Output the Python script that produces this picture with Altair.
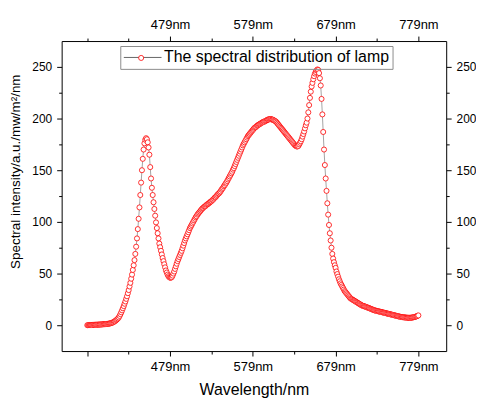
import altair as alt
import pandas as pd

# Spectral intensity, one value per nm starting at 379 nm
intensity = [
    0, 0.1, 0.1, 0.2, 0.2, 0.2, 0.3, 0.3, 0.4, 0.4,
    0.5, 0.5, 0.5, 0.6, 0.6, 0.7, 0.7, 0.8, 0.8, 0.9,
    1.0, 1.0, 1.1, 1.2, 1.3, 1.4, 1.5, 1.7, 1.9, 2.1,
    2.4, 2.8, 3.2, 3.7, 4.3, 5.0, 5.7, 6.5, 7.5, 9.0,
    10.7, 12.5, 14.4, 16.4, 18.5, 20.8, 23, 25.5, 28, 31,
    34, 37.5, 41, 45, 49, 53.5, 58, 63, 69, 76,
    84, 93, 103, 114, 126, 138, 150, 161, 170, 176,
    179.5, 181, 180, 177, 172, 165, 153, 142, 133, 126,
    119, 112.5, 106, 99.5, 94, 89, 84, 79, 75.5, 72,
    68.5, 65, 62, 59, 56, 53, 51, 49, 47.5, 46.5,
    46, 46, 46.5, 48, 50, 52, 54.5, 57, 59.5, 62,
    64, 66, 68, 70, 72, 74.5, 77, 79.5, 82, 84,
    86, 88, 90, 92, 94, 95.5, 97, 98.5, 100, 101.5,
    103, 104.5, 105.5, 107, 108, 109, 110, 111, 112, 113,
    113.5, 114.5, 115, 115.5, 116.5, 117, 117.5, 118, 119, 119.5,
    120, 121, 121.5, 122.5, 123.5, 124, 125, 126, 127, 127.5,
    128.5, 129.5, 131, 132, 133, 134.5, 135.5, 137, 138, 139.5,
    141, 142.5, 144, 145.5, 147, 148.5, 150.5, 152, 154, 156,
    158, 160, 162, 164, 166, 168, 170, 172, 174, 175.5,
    177, 178.5, 180, 181.5, 183, 184, 185, 186, 187, 188,
    189, 190, 191, 191.5, 192, 193, 193.5, 194, 194.5, 195,
    195.5, 196, 196.5, 197, 197, 197.5, 198, 198.5, 199, 199,
    199.5, 199.5, 199.5, 199, 199, 198.5, 198, 197.5, 197, 196,
    195, 194, 193, 192, 191, 190, 189, 188, 187, 186,
    185, 184, 183, 182, 181, 180, 179, 178, 177, 176,
    175, 174, 173.5, 173, 173, 173.5, 175, 176.5, 178, 180,
    182.5, 185, 187.5, 190.5, 193.5, 196, 200, 206, 213, 220,
    226, 231, 234.5, 238, 241, 243.5, 245, 246.5, 247.5, 247,
    244, 239, 232, 219, 204, 187, 170, 155, 142, 130,
    118, 107, 97, 89, 82, 75, 69, 64.5, 61, 58,
    55.5, 52, 49.5, 47, 44.5, 42.5, 40.5, 39, 37.5, 36,
    34.5, 33, 32, 31, 30, 29, 28, 27, 26, 25.5,
    25, 24.5, 24, 23.5, 23, 22.5, 22, 21.5, 21, 20.5,
    20, 19.5, 19, 18.8, 18.5, 18.2, 18, 17.6, 17.3, 17,
    16.7, 16.4, 16, 15.7, 15.4, 15, 14.7, 14.4, 14.2, 14,
    13.8, 13.6, 13.4, 13.2, 13, 12.8, 12.6, 12.4, 12.2, 12,
    11.8, 11.6, 11.4, 11.2, 11, 10.8, 10.6, 10.4, 10.2, 10,
    9.8, 9.6, 9.4, 9.2, 9, 8.8, 8.6, 8.4, 8.2, 8,
    7.9, 7.8, 7.7, 7.6, 7.5, 7.4, 7.3, 7.3, 7.2, 7.2,
    7.2, 7.3, 7.4, 7.5, 7.7, 7.9, 8.1, 8.4, 8.7, 9.1,
    9.5,
]
wavelength = list(range(379, 379 + len(intensity)))
series_name = "The spectral distribution of lamp"
x_ticks = [379, 429, 479, 529, 579, 629, 679, 729, 779]
y_ticks = [0, 25, 50, 75, 100, 125, 150, 175, 200, 225, 250]

df = pd.DataFrame({
    "wl": wavelength, "val": intensity,
    "series": series_name, "series_pt": series_name,
})

FONT = "Liberation Sans"
RED = "#ff0000"
xscale = alt.Scale(domain=[348, 812.6], nice=False, zero=False)
yscale = alt.Scale(domain=[-25, 275], nice=False, zero=False)

x_major_bottom = "(datum.value - 379) % 100 == 0"
x_major_top = "datum.value > 400 && (datum.value - 379) % 100 == 0"
x_label = "datum.value > 400 && (datum.value - 379) % 100 == 0 ? datum.value + 'nm' : ''"
y_major = "datum.value % 50 == 0"

common = dict(
    domainColor="black", domainWidth=1, tickColor="black", tickWidth=1,
    labelFont=FONT, labelColor="black", grid=False, labelOverlap=False,
    labelFlush=False, titleFont=FONT, titleColor="black", titleFontWeight="normal",
)

x_bottom = alt.Axis(orient="bottom", values=x_ticks, labelExpr=x_label,
                    tickSize={"condition": {"test": x_major_bottom, "value": 5}, "value": 3},
                    labelFontSize=13, labelPadding=5, title="Wavelength/nm",
                    titleFontSize=16, titlePadding=8, **common)
x_top = alt.Axis(orient="top", values=x_ticks, labelExpr=x_label,
                 tickSize={"condition": {"test": x_major_top, "value": 5}, "value": 3},
                 labelFontSize=13, labelPadding=5, title="", **common)
y_left = alt.Axis(orient="left", values=y_ticks,
                  labelExpr="datum.value % 50 == 0 ? datum.label : ''",
                  tickSize={"condition": {"test": y_major, "value": 5}, "value": 3},
                  labelFontSize=12, labelPadding=5,
                  title="Spectral intensity/a.u./mw/m²/nm",
                  titleFontSize=13.5, titleX=-39, titleY=131, titleAngle=270,
                  titleAlign="center", titleBaseline="bottom", **common)
y_right = alt.Axis(orient="right", values=y_ticks,
                   labelExpr="datum.value % 50 == 0 ? datum.label : ''",
                   tickSize={"condition": {"test": y_major, "value": 5}, "value": 3},
                   labelFontSize=12, labelPadding=5, title="", **common)

legend_line = alt.Legend(
    orient="none", legendX=59, legendY=5, title=None, symbolType="stroke",
    symbolSize=1444, symbolStrokeWidth=1, clipHeight=17,
    labelFont=FONT, labelFontSize=16, labelColor="black", labelOffset=2,
    labelLimit=0, padding=3, strokeColor="#8c8c8c", zindex=1,
)
legend_point = alt.Legend(
    orient="none", legendX=77, legendY=14, title=None, symbolType="circle",
    symbolSize=26, symbolStrokeWidth=0.8, symbolFillColor="white",
    labelExpr="''", labelFontSize=1, labelOffset=0, padding=0, zindex=2,
)

line = alt.Chart(df).mark_line(strokeWidth=0.6).encode(
    x=alt.X("wl:Q", scale=xscale, axis=x_bottom),
    y=alt.Y("val:Q", scale=yscale, axis=y_left),
    color=alt.Color("series:N", scale=alt.Scale(range=["#666666"]), legend=legend_line),
)

points = alt.Chart(df).mark_point(
    shape="circle", filled=False, fill="white", fillOpacity=1,
    strokeWidth=0.8, size=26, opacity=1,
).encode(
    x=alt.X("wl:Q", scale=xscale, axis=x_top),
    y=alt.Y("val:Q", scale=yscale, axis=y_right),
    stroke=alt.Stroke("series_pt:N", scale=alt.Scale(range=[RED]), legend=legend_point),
)

chart = alt.layer(line, points).resolve_axis(
    x="independent", y="independent"
).resolve_legend(
    color="independent", stroke="independent"
).properties(
    width=387, height=312,
    autosize=alt.AutoSizeParams(type="none"),
    padding={"left": 54, "top": 32, "right": 30, "bottom": 48},
).configure_view(stroke="transparent")

chart.save("out.html", embed_options={"renderer": "svg", "actions": False})
